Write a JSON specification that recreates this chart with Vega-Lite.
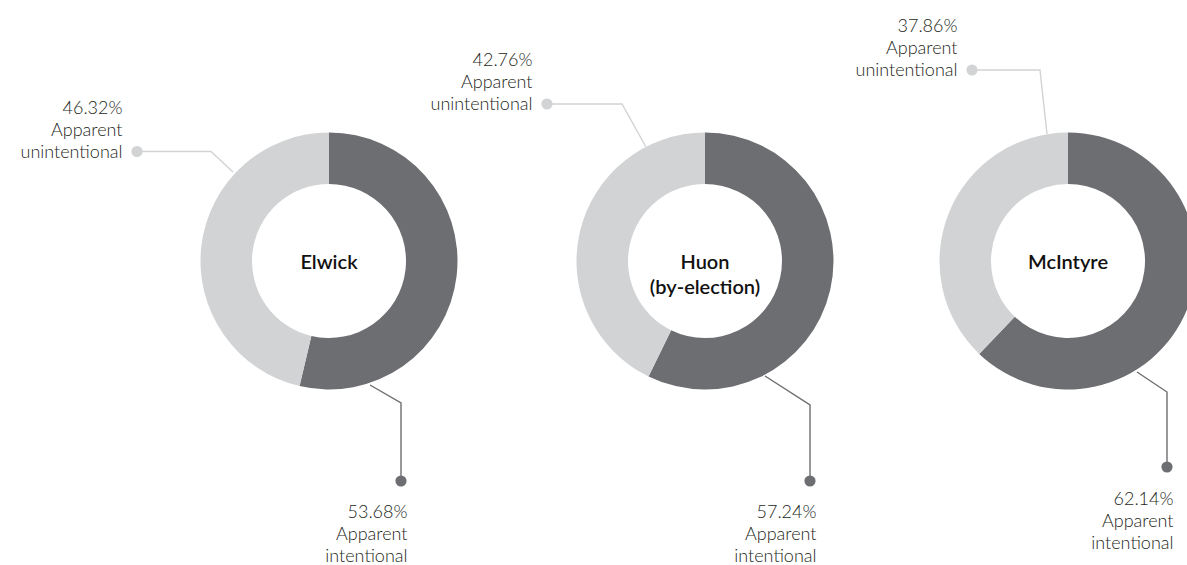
{
  "$schema": "https://vega.github.io/schema/vega-lite/v6.json",
  "padding": 0,
  "autosize": {"type": "pad"},
  "background": "white",
  "bounds": "flush",
  "spacing": 0,
  "config": {"view": {"stroke": null}, "font": "Lato"},
  "datasets": {
    "shares": [
      {"donut": "Elwick", "category": "Apparent intentional", "share": 0.5368, "dot_x": 72, "dot_y": 220, "px": [72, 72, 41], "py": [220, 142, 124]},
      {"donut": "Elwick", "category": "Apparent unintentional", "share": 0.4632, "dot_x": -192, "dot_y": -109.5, "px": [-192, -118, -96], "py": [-109.5, -109.5, -89]},
      {"donut": "Huon (by-election)", "category": "Apparent intentional", "share": 0.5724, "dot_x": 105, "dot_y": 220, "px": [105, 105, 60], "py": [220, 144, 115]},
      {"donut": "Huon (by-election)", "category": "Apparent unintentional", "share": 0.4276, "dot_x": -158, "dot_y": -157, "px": [-158, -83, -59], "py": [-157, -157, -114]},
      {"donut": "McIntyre", "category": "Apparent intentional", "share": 0.6214, "dot_x": 99, "dot_y": 206, "px": [99, 99, 69], "py": [206, 131, 111]},
      {"donut": "McIntyre", "category": "Apparent unintentional", "share": 0.3786, "dot_x": -96, "dot_y": -191, "px": [-96, -28, -21], "py": [-191, -191, -127]}
    ]
  },
  "data": {"name": "shares"},
  "hconcat": [
    {
      "width": 514,
      "height": 565,
      "transform": [{"filter": "datum.donut === 'Elwick'"}],
      "layer": [
        {
          "mark": {"type": "arc", "radius": 128.5, "innerRadius": 77, "stroke": null},
          "encoding": {
            "theta": {"field": "share", "type": "quantitative", "stack": true},
            "order": {"field": "category", "sort": "ascending"},
            "color": {"field": "category", "type": "nominal", "scale": {"domain": ["Apparent intentional", "Apparent unintentional"], "range": ["#6d6e71", "#d1d3d4"]}, "legend": null},
            "x": {"datum": 0, "type": "quantitative", "scale": {"domain": [-329, 185], "nice": false, "zero": false}, "axis": null},
            "y": {"datum": 0, "type": "quantitative", "scale": {"domain": [-261, 304], "nice": false, "zero": false, "reverse": true}, "axis": null}
          }
        },
        {
          "transform": [{"flatten": ["px", "py"]}],
          "mark": {"type": "line", "strokeWidth": 1.4},
          "encoding": {
            "x": {"field": "px", "type": "quantitative", "scale": {"domain": [-329, 185], "nice": false, "zero": false}, "axis": null},
            "y": {"field": "py", "type": "quantitative", "scale": {"domain": [-261, 304], "nice": false, "zero": false, "reverse": true}, "axis": null},
            "detail": {"field": "category"},
            "color": {"field": "category", "type": "nominal", "legend": null},
            "order": {"value": null}
          }
        },
        {
          "mark": {"type": "circle", "size": 125, "opacity": 1},
          "encoding": {
            "x": {"field": "dot_x", "type": "quantitative", "scale": {"domain": [-329, 185], "nice": false, "zero": false}, "axis": null},
            "y": {"field": "dot_y", "type": "quantitative", "scale": {"domain": [-261, 304], "nice": false, "zero": false, "reverse": true}, "axis": null},
            "color": {"field": "category", "type": "nominal", "legend": null}
          }
        },
        {
          "transform": [{"filter": "datum.category === 'Apparent unintentional'"}],
          "mark": {"type": "text", "align": "right", "baseline": "alphabetic", "dx": -14.5, "dy": -38, "font": "Lato", "fontSize": 18, "fontWeight": 300, "color": "#231f20"},
          "encoding": {
            "x": {"field": "dot_x", "type": "quantitative", "scale": {"domain": [-329, 185], "nice": false, "zero": false}, "axis": null},
            "y": {"field": "dot_y", "type": "quantitative", "scale": {"domain": [-261, 304], "nice": false, "zero": false, "reverse": true}, "axis": null},
            "text": {"field": "share", "type": "quantitative", "format": ".2%"}
          }
        },
        {
          "transform": [{"filter": "datum.category === 'Apparent unintentional'"}],
          "mark": {"type": "text", "align": "right", "baseline": "alphabetic", "dx": -14.5, "dy": -16, "lineBreak": " ", "lineHeight": 22, "font": "Lato", "fontSize": 18, "fontWeight": 300, "color": "#231f20"},
          "encoding": {
            "x": {"field": "dot_x", "type": "quantitative", "scale": {"domain": [-329, 185], "nice": false, "zero": false}, "axis": null},
            "y": {"field": "dot_y", "type": "quantitative", "scale": {"domain": [-261, 304], "nice": false, "zero": false, "reverse": true}, "axis": null},
            "text": {"field": "category", "type": "nominal"}
          }
        },
        {
          "transform": [{"filter": "datum.category === 'Apparent intentional'"}],
          "mark": {"type": "text", "align": "right", "baseline": "alphabetic", "dx": 6.5, "dy": 37, "font": "Lato", "fontSize": 18, "fontWeight": 300, "color": "#231f20"},
          "encoding": {
            "x": {"field": "dot_x", "type": "quantitative", "scale": {"domain": [-329, 185], "nice": false, "zero": false}, "axis": null},
            "y": {"field": "dot_y", "type": "quantitative", "scale": {"domain": [-261, 304], "nice": false, "zero": false, "reverse": true}, "axis": null},
            "text": {"field": "share", "type": "quantitative", "format": ".2%"}
          }
        },
        {
          "transform": [{"filter": "datum.category === 'Apparent intentional'"}],
          "mark": {"type": "text", "align": "right", "baseline": "alphabetic", "dx": 6.5, "dy": 59, "lineBreak": " ", "lineHeight": 22, "font": "Lato", "fontSize": 18, "fontWeight": 300, "color": "#231f20"},
          "encoding": {
            "x": {"field": "dot_x", "type": "quantitative", "scale": {"domain": [-329, 185], "nice": false, "zero": false}, "axis": null},
            "y": {"field": "dot_y", "type": "quantitative", "scale": {"domain": [-261, 304], "nice": false, "zero": false, "reverse": true}, "axis": null},
            "text": {"field": "category", "type": "nominal"}
          }
        },
        {
          "transform": [{"filter": "datum.category === 'Apparent intentional'"}],
          "mark": {"type": "text", "align": "center", "baseline": "middle", "dy": 2, "lineBreak": " ", "lineHeight": 25, "font": "Lato", "fontSize": 20, "fontWeight": 600, "color": "#111111"},
          "encoding": {
            "x": {"datum": 0, "type": "quantitative", "scale": {"domain": [-329, 185], "nice": false, "zero": false}, "axis": null},
            "y": {"datum": 0, "type": "quantitative", "scale": {"domain": [-261, 304], "nice": false, "zero": false, "reverse": true}, "axis": null},
            "text": {"field": "donut", "type": "nominal"}
          }
        }
      ]
    },
    {
      "width": 382,
      "height": 565,
      "transform": [{"filter": "datum.donut === 'Huon (by-election)'"}],
      "layer": [
        {
          "mark": {"type": "arc", "radius": 128.5, "innerRadius": 77, "stroke": null},
          "encoding": {
            "theta": {"field": "share", "type": "quantitative", "stack": true},
            "order": {"field": "category", "sort": "ascending"},
            "color": {"field": "category", "type": "nominal", "scale": {"domain": ["Apparent intentional", "Apparent unintentional"], "range": ["#6d6e71", "#d1d3d4"]}, "legend": null},
            "x": {"datum": 0, "type": "quantitative", "scale": {"domain": [-191, 191], "nice": false, "zero": false}, "axis": null},
            "y": {"datum": 0, "type": "quantitative", "scale": {"domain": [-261, 304], "nice": false, "zero": false, "reverse": true}, "axis": null}
          }
        },
        {
          "transform": [{"flatten": ["px", "py"]}],
          "mark": {"type": "line", "strokeWidth": 1.4},
          "encoding": {
            "x": {"field": "px", "type": "quantitative", "scale": {"domain": [-191, 191], "nice": false, "zero": false}, "axis": null},
            "y": {"field": "py", "type": "quantitative", "scale": {"domain": [-261, 304], "nice": false, "zero": false, "reverse": true}, "axis": null},
            "detail": {"field": "category"},
            "color": {"field": "category", "type": "nominal", "legend": null},
            "order": {"value": null}
          }
        },
        {
          "mark": {"type": "circle", "size": 125, "opacity": 1},
          "encoding": {
            "x": {"field": "dot_x", "type": "quantitative", "scale": {"domain": [-191, 191], "nice": false, "zero": false}, "axis": null},
            "y": {"field": "dot_y", "type": "quantitative", "scale": {"domain": [-261, 304], "nice": false, "zero": false, "reverse": true}, "axis": null},
            "color": {"field": "category", "type": "nominal", "legend": null}
          }
        },
        {
          "transform": [{"filter": "datum.category === 'Apparent unintentional'"}],
          "mark": {"type": "text", "align": "right", "baseline": "alphabetic", "dx": -14.5, "dy": -38, "font": "Lato", "fontSize": 18, "fontWeight": 300, "color": "#231f20"},
          "encoding": {
            "x": {"field": "dot_x", "type": "quantitative", "scale": {"domain": [-191, 191], "nice": false, "zero": false}, "axis": null},
            "y": {"field": "dot_y", "type": "quantitative", "scale": {"domain": [-261, 304], "nice": false, "zero": false, "reverse": true}, "axis": null},
            "text": {"field": "share", "type": "quantitative", "format": ".2%"}
          }
        },
        {
          "transform": [{"filter": "datum.category === 'Apparent unintentional'"}],
          "mark": {"type": "text", "align": "right", "baseline": "alphabetic", "dx": -14.5, "dy": -16, "lineBreak": " ", "lineHeight": 22, "font": "Lato", "fontSize": 18, "fontWeight": 300, "color": "#231f20"},
          "encoding": {
            "x": {"field": "dot_x", "type": "quantitative", "scale": {"domain": [-191, 191], "nice": false, "zero": false}, "axis": null},
            "y": {"field": "dot_y", "type": "quantitative", "scale": {"domain": [-261, 304], "nice": false, "zero": false, "reverse": true}, "axis": null},
            "text": {"field": "category", "type": "nominal"}
          }
        },
        {
          "transform": [{"filter": "datum.category === 'Apparent intentional'"}],
          "mark": {"type": "text", "align": "right", "baseline": "alphabetic", "dx": 6.5, "dy": 37, "font": "Lato", "fontSize": 18, "fontWeight": 300, "color": "#231f20"},
          "encoding": {
            "x": {"field": "dot_x", "type": "quantitative", "scale": {"domain": [-191, 191], "nice": false, "zero": false}, "axis": null},
            "y": {"field": "dot_y", "type": "quantitative", "scale": {"domain": [-261, 304], "nice": false, "zero": false, "reverse": true}, "axis": null},
            "text": {"field": "share", "type": "quantitative", "format": ".2%"}
          }
        },
        {
          "transform": [{"filter": "datum.category === 'Apparent intentional'"}],
          "mark": {"type": "text", "align": "right", "baseline": "alphabetic", "dx": 6.5, "dy": 59, "lineBreak": " ", "lineHeight": 22, "font": "Lato", "fontSize": 18, "fontWeight": 300, "color": "#231f20"},
          "encoding": {
            "x": {"field": "dot_x", "type": "quantitative", "scale": {"domain": [-191, 191], "nice": false, "zero": false}, "axis": null},
            "y": {"field": "dot_y", "type": "quantitative", "scale": {"domain": [-261, 304], "nice": false, "zero": false, "reverse": true}, "axis": null},
            "text": {"field": "category", "type": "nominal"}
          }
        },
        {
          "transform": [{"filter": "datum.category === 'Apparent intentional'"}],
          "mark": {"type": "text", "align": "center", "baseline": "middle", "dy": 2, "lineBreak": " ", "lineHeight": 25, "font": "Lato", "fontSize": 20, "fontWeight": 600, "color": "#111111"},
          "encoding": {
            "x": {"datum": 0, "type": "quantitative", "scale": {"domain": [-191, 191], "nice": false, "zero": false}, "axis": null},
            "y": {"datum": 0, "type": "quantitative", "scale": {"domain": [-261, 304], "nice": false, "zero": false, "reverse": true}, "axis": null},
            "text": {"field": "donut", "type": "nominal"}
          }
        }
      ]
    },
    {
      "width": 291,
      "height": 565,
      "transform": [{"filter": "datum.donut === 'McIntyre'"}],
      "layer": [
        {
          "mark": {"type": "arc", "radius": 128.5, "innerRadius": 77, "stroke": null},
          "encoding": {
            "theta": {"field": "share", "type": "quantitative", "stack": true},
            "order": {"field": "category", "sort": "ascending"},
            "color": {"field": "category", "type": "nominal", "scale": {"domain": ["Apparent intentional", "Apparent unintentional"], "range": ["#6d6e71", "#d1d3d4"]}, "legend": null},
            "x": {"datum": 0, "type": "quantitative", "scale": {"domain": [-172, 119], "nice": false, "zero": false}, "axis": null},
            "y": {"datum": 0, "type": "quantitative", "scale": {"domain": [-261, 304], "nice": false, "zero": false, "reverse": true}, "axis": null}
          }
        },
        {
          "transform": [{"flatten": ["px", "py"]}],
          "mark": {"type": "line", "strokeWidth": 1.4},
          "encoding": {
            "x": {"field": "px", "type": "quantitative", "scale": {"domain": [-172, 119], "nice": false, "zero": false}, "axis": null},
            "y": {"field": "py", "type": "quantitative", "scale": {"domain": [-261, 304], "nice": false, "zero": false, "reverse": true}, "axis": null},
            "detail": {"field": "category"},
            "color": {"field": "category", "type": "nominal", "legend": null},
            "order": {"value": null}
          }
        },
        {
          "mark": {"type": "circle", "size": 125, "opacity": 1},
          "encoding": {
            "x": {"field": "dot_x", "type": "quantitative", "scale": {"domain": [-172, 119], "nice": false, "zero": false}, "axis": null},
            "y": {"field": "dot_y", "type": "quantitative", "scale": {"domain": [-261, 304], "nice": false, "zero": false, "reverse": true}, "axis": null},
            "color": {"field": "category", "type": "nominal", "legend": null}
          }
        },
        {
          "transform": [{"filter": "datum.category === 'Apparent unintentional'"}],
          "mark": {"type": "text", "align": "right", "baseline": "alphabetic", "dx": -14.5, "dy": -38, "font": "Lato", "fontSize": 18, "fontWeight": 300, "color": "#231f20"},
          "encoding": {
            "x": {"field": "dot_x", "type": "quantitative", "scale": {"domain": [-172, 119], "nice": false, "zero": false}, "axis": null},
            "y": {"field": "dot_y", "type": "quantitative", "scale": {"domain": [-261, 304], "nice": false, "zero": false, "reverse": true}, "axis": null},
            "text": {"field": "share", "type": "quantitative", "format": ".2%"}
          }
        },
        {
          "transform": [{"filter": "datum.category === 'Apparent unintentional'"}],
          "mark": {"type": "text", "align": "right", "baseline": "alphabetic", "dx": -14.5, "dy": -16, "lineBreak": " ", "lineHeight": 22, "font": "Lato", "fontSize": 18, "fontWeight": 300, "color": "#231f20"},
          "encoding": {
            "x": {"field": "dot_x", "type": "quantitative", "scale": {"domain": [-172, 119], "nice": false, "zero": false}, "axis": null},
            "y": {"field": "dot_y", "type": "quantitative", "scale": {"domain": [-261, 304], "nice": false, "zero": false, "reverse": true}, "axis": null},
            "text": {"field": "category", "type": "nominal"}
          }
        },
        {
          "transform": [{"filter": "datum.category === 'Apparent intentional'"}],
          "mark": {"type": "text", "align": "right", "baseline": "alphabetic", "dx": 6.5, "dy": 38, "font": "Lato", "fontSize": 18, "fontWeight": 300, "color": "#231f20"},
          "encoding": {
            "x": {"field": "dot_x", "type": "quantitative", "scale": {"domain": [-172, 119], "nice": false, "zero": false}, "axis": null},
            "y": {"field": "dot_y", "type": "quantitative", "scale": {"domain": [-261, 304], "nice": false, "zero": false, "reverse": true}, "axis": null},
            "text": {"field": "share", "type": "quantitative", "format": ".2%"}
          }
        },
        {
          "transform": [{"filter": "datum.category === 'Apparent intentional'"}],
          "mark": {"type": "text", "align": "right", "baseline": "alphabetic", "dx": 6.5, "dy": 60, "lineBreak": " ", "lineHeight": 22, "font": "Lato", "fontSize": 18, "fontWeight": 300, "color": "#231f20"},
          "encoding": {
            "x": {"field": "dot_x", "type": "quantitative", "scale": {"domain": [-172, 119], "nice": false, "zero": false}, "axis": null},
            "y": {"field": "dot_y", "type": "quantitative", "scale": {"domain": [-261, 304], "nice": false, "zero": false, "reverse": true}, "axis": null},
            "text": {"field": "category", "type": "nominal"}
          }
        },
        {
          "transform": [{"filter": "datum.category === 'Apparent intentional'"}],
          "mark": {"type": "text", "align": "center", "baseline": "middle", "dy": 2, "lineBreak": " ", "lineHeight": 25, "font": "Lato", "fontSize": 20, "fontWeight": 600, "color": "#111111"},
          "encoding": {
            "x": {"datum": 0, "type": "quantitative", "scale": {"domain": [-172, 119], "nice": false, "zero": false}, "axis": null},
            "y": {"datum": 0, "type": "quantitative", "scale": {"domain": [-261, 304], "nice": false, "zero": false, "reverse": true}, "axis": null},
            "text": {"field": "donut", "type": "nominal"}
          }
        }
      ]
    }
  ]
}
